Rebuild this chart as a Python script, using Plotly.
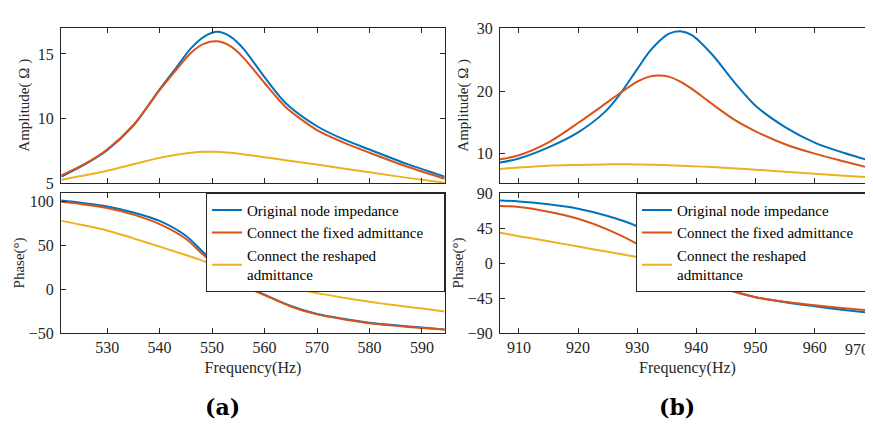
import plotly.graph_objects as go
from plotly.subplots import make_subplots

# ---------------- data: panel (a) ----------------
freq_a_amp = [521.3, 526, 530, 535, 540, 543, 546, 548.5, 551, 553.5, 556, 560, 564, 570, 575, 580, 587, 594.3]
amp_a_original = [5.5, 6.5, 7.54, 9.45, 12.25, 13.85, 15.45, 16.35, 16.72, 16.35, 15.4, 13.2, 11.2, 9.4, 8.4, 7.6, 6.5, 5.5]
amp_a_fixed = [5.6, 6.55, 7.6, 9.5, 12.2, 13.7, 15.1, 15.8, 15.98, 15.6, 14.7, 12.75, 10.9, 9.1, 8.15, 7.35, 6.3, 5.33]
amp_a_reshaped = [5.25, 5.62, 5.95, 6.45, 6.95, 7.18, 7.34, 7.42, 7.42, 7.34, 7.22, 7.0, 6.77, 6.43, 6.13, 5.83, 5.42, 5.03]

freq_a_ph = [521.3, 525, 530, 535, 540, 545, 548, 550, 552, 554, 556, 560, 565, 570, 575, 580, 585, 590, 594.3]
ph_a_original = [101, 98.5, 94.3, 87.5, 77.9, 61, 44, 33, 21, 12, 4.5, -6.2, -19, -28, -33.5, -38, -41, -43.4, -45.6]
ph_a_fixed = [99.5, 97, 92.5, 85, 74.2, 57.5, 41, 31, 20.5, 11.5, 4, -6.5, -19.5, -28.5, -34, -38.5, -41.5, -44, -45.8]
ph_a_reshaped = [77.9, 73.5, 67, 58, 48.6, 39, 33, 28.5, 24.1, 20.3, 16.5, 9.2, 2.2, -4.3, -9.5, -14.2, -18.2, -21.8, -25.1]

# ---------------- data: panel (b) ----------------
freq_b_amp = [906.8, 910, 915, 920, 924.5, 927, 930, 932, 933.7, 935.3, 937.3, 939.3, 942.7, 946.6, 950, 955, 960, 965, 970]
amp_b_original = [8.56, 9.23, 11.0, 13.4, 16.63, 19.4, 23.5, 26.2, 27.95, 29.14, 29.54, 28.9, 25.8, 21.2, 17.66, 14.25, 11.77, 10.1, 8.7]
amp_b_fixed = [9.1, 9.74, 11.8, 14.9, 17.9, 19.6, 21.5, 22.3, 22.5, 22.3, 21.5, 20.3, 17.9, 15.3, 13.57, 11.5, 10.0, 8.75, 7.55]
amp_b_reshaped = [7.55, 7.8, 8.08, 8.2, 8.28, 8.3, 8.27, 8.23, 8.2, 8.15, 8.08, 8.0, 7.85, 7.62, 7.44, 7.1, 6.78, 6.48, 6.17]

freq_b_ph = [906.8, 910, 915, 920, 925, 930, 932.5, 935, 937.5, 940, 942.5, 945, 950, 955, 960, 965, 970]
ph_b_original = [80.9, 79.6, 76, 70.4, 61, 47.7, 36, 18, 1, -13, -25, -33, -43.5, -50, -55.2, -60, -64.3]
ph_b_fixed = [73.8, 72.6, 66.5, 57.3, 43.5, 25.2, 14, 3, -8, -17.9, -26.5, -33, -43.5, -49.5, -54, -57.8, -60.9]
ph_b_reshaped = [39.4, 35, 28.5, 21.6, 14.8, 8.3, 5, 2, -1.7, -5.8, -8.8, -11.5, -15.7, -20.2, -24.8, -29.5, -34.4]

# tick labels
ticks_a_x = [530, 540, 550, 560, 570, 580, 590]
ticks_b_x = [910, 920, 930, 940, 950, 960, 970]
ticks_b_x_text = ["910", "920", "930", "940", "950", "960", ""]
last_b_x_label = "970"

NB = "\u00a0"
series_names = ["Original node impedance",
                "Connect the fixed admittance" + NB * 4,
                "Connect the reshaped<br>admittance"]
colors = ["#0072BD", "#D95319", "#EDB120"]

FONT = "Liberation Serif"
W, H = 873, 425

fig = make_subplots(rows=2, cols=2)

def add_set(x, ys, row, col, legend_name, show):
    for name, y, c in zip(series_names, ys, colors):
        fig.add_trace(go.Scatter(
            x=x, y=y, mode="lines", name=name,
            line=dict(color=c, width=2, shape="spline", smoothing=0.8),
            showlegend=show, legend=legend_name,
        ), row=row, col=col)

add_set(freq_a_amp, [amp_a_original, amp_a_fixed, amp_a_reshaped], 1, 1, "legend", False)
add_set(freq_b_amp, [amp_b_original, amp_b_fixed, amp_b_reshaped], 1, 2, "legend2", False)
add_set(freq_a_ph, [ph_a_original, ph_a_fixed, ph_a_reshaped], 2, 1, "legend", True)
add_set(freq_b_ph, [ph_b_original, ph_b_fixed, ph_b_reshaped], 2, 2, "legend2", True)

axis_common = dict(
    showline=True, linecolor="#262626", linewidth=1, mirror="allticks",
    ticks="inside", ticklen=5, tickcolor="#262626", tickwidth=1,
    showgrid=False, zeroline=False,
    tickfont=dict(family=FONT, size=16, color="#262626"),
)
title_font = dict(family=FONT, size=15, color="#262626")
xtitle_font = dict(family=FONT, size=16, color="#262626")

xl = [53 / W, 437 / W]
xr = [492 / W, 867 / W]
y_top = [1 - 174 / H, 1 - 12 / H]
y_bot = [1 - 330.5 / H, 1 - 184 / H]

legend_common = dict(y=1 - 184 / H, yanchor="top", xanchor="right",
                     bgcolor="white", bordercolor="#262626", borderwidth=1,
                     font=dict(family=FONT, size=15, color="#000000"),
                     tracegroupgap=0, itemwidth=30)

fig.update_layout(
    width=W, height=H,
    margin=dict(l=0, r=0, t=0, b=0),
    paper_bgcolor="white", plot_bgcolor="white",
    font=dict(family=FONT, color="#262626"),
    xaxis=dict(domain=xl, range=[521.2, 594.4], tickvals=ticks_a_x,
               showticklabels=False, **axis_common),
    xaxis2=dict(domain=xr, range=[906.8, 970.2], tickvals=ticks_b_x,
                showticklabels=False, **axis_common),
    xaxis3=dict(domain=xl, range=[521.2, 594.4], tickvals=ticks_a_x,
                title=dict(text="Frequency(Hz)", font=xtitle_font, standoff=6),
                **axis_common),
    xaxis4=dict(domain=xr, range=[906.8, 970.2], tickvals=ticks_b_x, ticktext=ticks_b_x_text,
                title=dict(text="Frequency(Hz)", font=xtitle_font, standoff=6),
                **axis_common),
    yaxis=dict(domain=y_top, range=[5, 17.05], tickvals=[5, 10, 15], ticklabelstandoff=3,
               title=dict(text="Amplitude( Ω )", font=title_font, standoff=4), **axis_common),
    yaxis2=dict(domain=y_top, range=[5.3, 30.15], tickvals=[10, 20, 30], ticklabelstandoff=3,
                title=dict(text="Amplitude( Ω )", font=title_font, standoff=4), **axis_common),
    yaxis3=dict(domain=y_bot, range=[-50, 110], tickvals=[-50, 0, 50, 100], ticklabelstandoff=3,
                title=dict(text="Phase(°)", font=title_font, standoff=0), **axis_common),
    yaxis4=dict(domain=y_bot, range=[-90, 91], tickvals=[-90, -45, 0, 45, 90], ticklabelstandoff=3,
                title=dict(text="Phase(°)", font=title_font, standoff=0), **axis_common),
    legend=dict(x=437 / W, **legend_common),
    legend2=dict(x=867 / W, **legend_common),
    annotations=[
        dict(text=last_b_x_label, x=849 / W, y=1 - 347 / H, xref="paper", yref="paper",
             showarrow=False, xanchor="center", yanchor="middle",
             font=dict(family=FONT, size=16, color="#262626")),
        dict(text="<b>(a)</b>", x=214 / W, y=1 - 407 / H, xref="paper", yref="paper",
             showarrow=False, xanchor="center", yanchor="middle",
             font=dict(family="DejaVu Serif", size=22, color="#000000")),
        dict(text="<b>(b)</b>", x=669 / W, y=1 - 407 / H, xref="paper", yref="paper",
             showarrow=False, xanchor="center", yanchor="middle",
             font=dict(family="DejaVu Serif", size=22, color="#000000")),
    ],
)

fig.write_html("out.html")
